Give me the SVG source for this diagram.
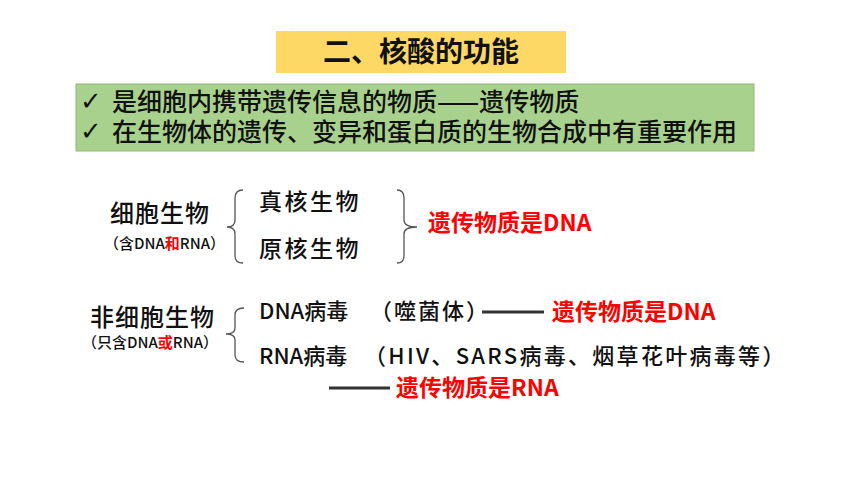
<svg xmlns="http://www.w3.org/2000/svg" width="860" height="484" viewBox="0 0 860 484">
<style>
text{font-family:"Noto Sans CJK SC","Noto Sans",sans-serif;fill:#111;font-weight:500;}
.b{font-weight:bold;}
.r{fill:#FF0000;font-weight:bold;}
.k{font-size:25px;}
.s{font-size:15px;}
.chk{font-family:"DejaVu Sans",sans-serif;font-size:26px;font-weight:bold;}
.brace{fill:none;stroke:#555;stroke-width:1.3;}
.dash{stroke:#333;stroke-width:3;}
</style>
<rect width="860" height="484" fill="#fff"/>
<g id="title">
<rect x="276" y="31" width="290" height="42" fill="#FDD865"/>
<text x="421" y="62" font-size="28" class="b" text-anchor="middle">二、核酸的功能</text>
</g>
<g id="summary">
<rect x="76" y="84" width="678" height="67" fill="#A9D18E" stroke="#8FB872" stroke-width="1"/>
<text x="80" y="110" class="chk">✓</text>
<text x="112" y="111" class="k">是细胞内携带遗传信息的物质——遗传物质</text>
<text x="80" y="140" class="chk">✓</text>
<text x="112" y="141" class="k">在生物体的遗传、变异和蛋白质的生物合成中有重要作用</text>
</g>
<g id="cellular">
<text x="110" y="222" font-size="24" letter-spacing="1">细胞生物</text>
<text x="104" y="249" class="s">（含DNA<tspan class="r">和</tspan>RNA）</text>
</g>
<g id="eukaryote"><text x="259" y="210" font-size="23" letter-spacing="2.5">真核生物</text></g>
<g id="prokaryote"><text x="259" y="257" font-size="23" letter-spacing="2.5">原核生物</text></g>
<g id="dna1"><text x="428" y="231" font-size="23" class="r">遗传物质是DNA</text></g>
<g id="acellular">
<text x="90" y="326" font-size="24" letter-spacing="1">非细胞生物</text>
<text x="82" y="348" class="s">（只含DNA<tspan class="r">或</tspan>RNA）</text>
</g>
<g id="dnavirus"><text x="259" y="319" font-size="22">DNA病毒<tspan x="370" letter-spacing="2">（噬菌体）</tspan></text></g>
<g id="dna2"><text x="552" y="320" font-size="23" class="r">遗传物质是DNA</text></g>
<g id="rnavirus"><text x="259" y="364" font-size="22">RNA病毒<tspan x="364" letter-spacing="2.3">（HIV、SARS病毒、烟草花叶病毒等）</tspan></text></g>
<g id="rna"><text x="396" y="396" font-size="23" class="r">遗传物质是RNA</text></g>
<g id="connectors">
<path class="brace" d="M243,190 Q235,190 235,198 L235,220 Q235,227 227,227 Q235,227 235,234 L235,256 Q235,263 243,263"/>
<path class="brace" d="M397,190 Q404,190 404,198 L404,220 Q404,227 417,227 Q404,227 404,234 L404,256 Q404,263 397,263"/>
<path class="brace" d="M244,308 Q235,308 235,315 L235,328 Q235,334 226,334 Q235,334 235,340 L235,355 Q235,362 244,362"/>
<line class="dash" x1="482" y1="312" x2="544" y2="312"/>
<line class="dash" x1="329" y1="388" x2="390" y2="388"/>
</g>
</svg>
